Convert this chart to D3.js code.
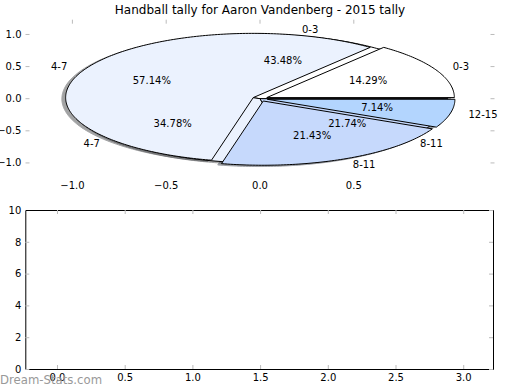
<!DOCTYPE html>
<html>
<head>
<meta charset="utf-8">
<script src="https://cdn.jsdelivr.net/npm/d3@7"></script>
<style>
  body { margin: 0; background: #fff; }
  svg { font-family: "DejaVu Sans", sans-serif; }
</style>
</head>
<body>
<div id="viz"></div>
<script>
// chart values
const titleText = "Handball tally for Aaron Vandenberg - 2015 tally";
const groupsA = ["0-3", "4-7", "8-11", "12-15"];
const countsA = [2, 8, 3, 1];
const groupsB = ["0-3", "4-7", "8-11"];
const countsB = [10, 8, 5];
const sliceColors = ["#ffffff", "#ebf2fe", "#c6d9fc", "#b3d5fe"];
const pieTicksX = [-1.0, -0.5, 0.0, 0.5];
const pieTicksY = [-1.0, -0.5, 0.0, 0.5, 1.0];
const lowerTicksX = [0.0, 0.5, 1.0, 1.5, 2.0, 2.5, 3.0];
const lowerTicksY = [0, 2, 4, 6, 8, 10];

const svg = d3.select("#viz")
              .append("svg")
              .attr("width", 520)
              .attr("height", 390);

const tickGray = "#bbbbbb";

// ---------- top panel: the two pies ----------
const x = d3.scaleLinear().domain([-1.25, 1.25]).range([25.5, 494.5]);
const y = d3.scaleLinear().domain([-1.23, 1.23]).range([177.7, 19.7]);

const pie = d3.pie().sort(null).startAngle(0).endAngle(2 * Math.PI);
const line = d3.line().x(d => x(d[0])).y(d => y(d[1]));

function wedgePoints(d, explode, dx, dy) {
  const mid = (d.startAngle + d.endAngle) / 2;
  const ox = explode * Math.cos(mid) + dx;
  const oy = explode * Math.sin(mid) + dy;
  const pts = [[ox, oy]];
  const n = Math.max(8, Math.ceil((d.endAngle - d.startAngle) * 60));
  for (let i = 0; i <= n; i++) {
    const t = d.startAngle + (d.endAngle - d.startAngle) * i / n;
    pts.push([ox + Math.cos(t), oy + Math.sin(t)]);
  }
  pts.push([ox, oy]);
  return pts;
}

function shade(c) {
  const k = d3.rgb(c);
  return d3.rgb(k.r * 0.3, k.g * 0.3, k.b * 0.3).toString();
}

const arcsB = pie(countsB);
const arcsA = pie(countsA);
const explodeA = 0.04;

const gPie = svg.append("g");

// shadows sit under every wedge
gPie.selectAll("path.shadowB")
    .data(arcsB)
    .enter()
    .append("path")
    .attr("class", "shadowB")
    .attr("d", d => line(wedgePoints(d, 0, -0.02, -0.02)))
    .attr("fill", (d, i) => shade(sliceColors[i]))
    .attr("stroke", (d, i) => shade(sliceColors[i]))
    .attr("opacity", 0.5);

gPie.selectAll("path.shadowA")
    .data(arcsA)
    .enter()
    .append("path")
    .attr("class", "shadowA")
    .attr("d", d => line(wedgePoints(d, explodeA, -0.02, -0.02)))
    .attr("fill", (d, i) => shade(sliceColors[i]))
    .attr("stroke", (d, i) => shade(sliceColors[i]))
    .attr("opacity", 0.5);

gPie.selectAll("path.wedgeB")
    .data(arcsB)
    .enter()
    .append("path")
    .attr("class", "wedgeB")
    .attr("d", d => line(wedgePoints(d, 0, 0, 0)))
    .attr("fill", (d, i) => sliceColors[i])
    .attr("stroke", "#000")
    .attr("stroke-width", 1)
    .attr("stroke-linejoin", "round");

gPie.selectAll("path.wedgeA")
    .data(arcsA)
    .enter()
    .append("path")
    .attr("class", "wedgeA")
    .attr("d", d => line(wedgePoints(d, explodeA, 0, 0)))
    .attr("fill", (d, i) => sliceColors[i])
    .attr("stroke", "#000")
    .attr("stroke-width", 1)
    .attr("stroke-linejoin", "round");

const pct = d3.format(".2f");

function addLabels(arcs, names, total, explode) {
  arcs.forEach((d, i) => {
    const mid = (d.startAngle + d.endAngle) / 2;
    const ox = explode * Math.cos(mid);
    const oy = explode * Math.sin(mid);
    const lx = ox + 1.1 * Math.cos(mid);
    const ly = oy + 1.1 * Math.sin(mid);
    svg.append("text")
       .attr("x", x(lx))
       .attr("y", y(ly))
       .attr("dy", "0.35em")
       .attr("text-anchor", lx > 0 ? "start" : "end")
       .style("font-size", "10px")
       .text(names[i]);
    svg.append("text")
       .attr("x", x(ox + 0.6 * Math.cos(mid)))
       .attr("y", y(oy + 0.6 * Math.sin(mid)))
       .attr("dy", "0.35em")
       .attr("text-anchor", "middle")
       .style("font-size", "10px")
       .text(pct(d.data / total * 100) + "%");
  });
}

addLabels(arcsB, groupsB, d3.sum(countsB), 0);
addLabels(arcsA, groupsA, d3.sum(countsA), explodeA);

// top panel ticks: labels on left/bottom, faint marks on left, top, right
const fmt1 = d3.format(".1f");
const gTicks = svg.append("g");
gTicks.selectAll("line.yl")
      .data(pieTicksY).enter().append("line")
      .attr("x1", x.range()[0]).attr("x2", x.range()[0] + 4)
      .attr("y1", d => y(d)).attr("y2", d => y(d))
      .attr("stroke", tickGray);
gTicks.selectAll("line.yr")
      .data(pieTicksY).enter().append("line")
      .attr("x1", x.range()[1] - 4).attr("x2", x.range()[1])
      .attr("y1", d => y(d)).attr("y2", d => y(d))
      .attr("stroke", tickGray);
gTicks.selectAll("line.xt")
      .data(pieTicksX).enter().append("line")
      .attr("x1", d => x(d)).attr("x2", d => x(d))
      .attr("y1", y.range()[1]).attr("y2", y.range()[1] + 4)
      .attr("stroke", tickGray);
gTicks.selectAll("text.yl")
      .data(pieTicksY).enter().append("text")
      .attr("x", x.range()[0] - 4)
      .attr("y", d => y(d))
      .attr("dy", "0.35em")
      .attr("text-anchor", "end")
      .style("font-size", "10px")
      .text(d => fmt1(d));
gTicks.selectAll("text.xb")
      .data(pieTicksX).enter().append("text")
      .attr("x", d => x(d))
      .attr("y", y.range()[0] + 4.5)
      .attr("dy", "0.71em")
      .attr("text-anchor", "middle")
      .style("font-size", "10px")
      .text(d => fmt1(d));

svg.append("text")
   .attr("x", 260)
   .attr("y", 14)
   .attr("text-anchor", "middle")
   .style("font-size", "12px")
   .text(titleText);

// ---------- bottom panel: empty axes ----------
const x2 = d3.scaleLinear().domain([-0.234, 3.22]).range([25.3, 493]);
const y2 = d3.scaleLinear().domain([0, 10]).range([369, 210]);

const gLow = svg.append("g");

gLow.append("g")
    .attr("transform", `translate(0,${y2.range()[0]})`)
    .call(d3.axisBottom(x2).tickValues(lowerTicksX).tickFormat(fmt1)
            .tickSizeInner(-4).tickSizeOuter(0).tickPadding(5));
gLow.append("g")
    .attr("transform", `translate(${x2.range()[0]},0)`)
    .call(d3.axisLeft(y2).tickValues(lowerTicksY).tickFormat(d3.format("d"))
            .tickSizeInner(-4).tickSizeOuter(0).tickPadding(4));
gLow.append("g")
    .attr("transform", `translate(0,${y2.range()[1]})`)
    .call(d3.axisTop(x2).tickValues(lowerTicksX).tickFormat("")
            .tickSizeInner(-4).tickSizeOuter(0));
gLow.append("g")
    .attr("transform", `translate(${x2.range()[1]},0)`)
    .call(d3.axisRight(y2).tickValues(lowerTicksY).tickFormat("")
            .tickSizeInner(-4).tickSizeOuter(0));

gLow.selectAll(".tick line").attr("stroke", tickGray);
gLow.selectAll(".domain").attr("stroke", "#000");
gLow.selectAll(".tick text")
    .style("font-size", "10px")
    .style("font-family", "DejaVu Sans, sans-serif")
    .attr("fill", "#000");

svg.append("text")
   .attr("x", 0)
   .attr("y", 384)
   .attr("fill", "#999")
   .style("font-size", "11.7px")
   .text("Dream-Stats.com");
</script>
</body>
</html>
